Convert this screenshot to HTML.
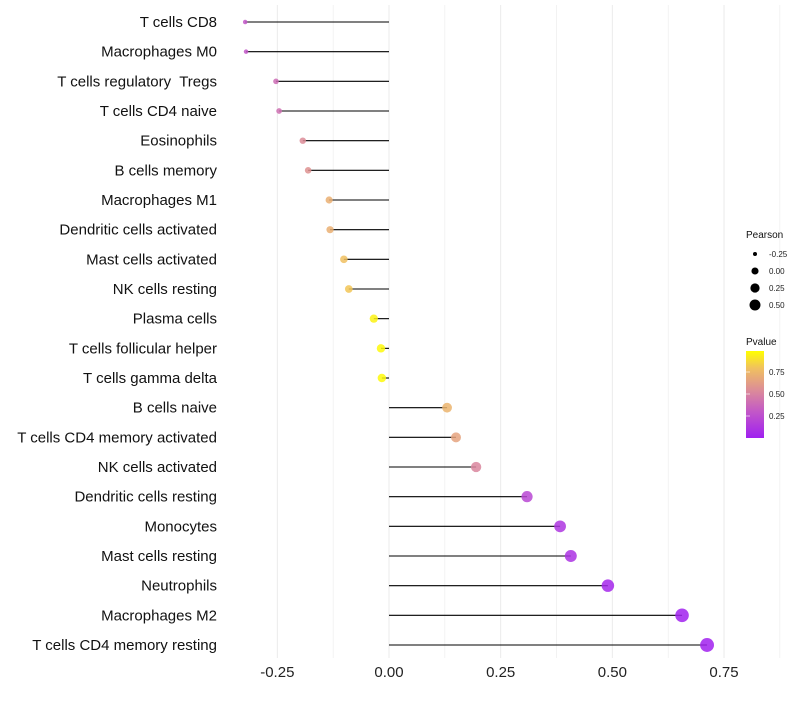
<!DOCTYPE html>
<html><head><meta charset="utf-8"><style>
body{margin:0;background:#fff;font-family:"Liberation Sans",sans-serif}
text{white-space:pre}
</style></head><body>
<svg id="chart" width="800" height="700" xmlns="http://www.w3.org/2000/svg">
<defs><linearGradient id="pg" x1="0" y1="1" x2="0" y2="0">
<stop offset="0" stop-color="#a020f0"/><stop offset="0.3" stop-color="#c257c8"/><stop offset="0.55" stop-color="#dc8c98"/><stop offset="0.8" stop-color="#f0c060"/><stop offset="1" stop-color="#ffff00"/></linearGradient></defs>
<g id="grid"></g><g id="marks"></g><g id="labels"></g><g id="legend"></g>
</svg>
<script>
const categories=["T cells CD8","Macrophages M0","T cells regulatory  Tregs","T cells CD4 naive","Eosinophils","B cells memory","Macrophages M1","Dendritic cells activated","Mast cells activated","NK cells resting","Plasma cells","T cells follicular helper","T cells gamma delta","B cells naive","T cells CD4 memory activated","NK cells activated","Dendritic cells resting","Monocytes","Mast cells resting","Neutrophils","Macrophages M2","T cells CD4 memory resting"];
const pearson=[-0.322,-0.320,-0.253,-0.246,-0.193,-0.181,-0.134,-0.132,-0.101,-0.090,-0.034,-0.018,-0.016,0.130,0.150,0.195,0.309,0.383,0.407,0.490,0.656,0.712];
const pvalue=[0.30,0.30,0.40,0.42,0.55,0.58,0.72,0.72,0.80,0.82,0.96,0.98,0.98,0.74,0.66,0.52,0.22,0.12,0.10,0.04,0.01,0.005];
const xTicks=[-0.25,0,0.25,0.5,0.75];
const xTickLabels=["-0.25","0.00","0.25","0.50","0.75"];
const sizeBreaks=[-0.25,0,0.25,0.5];
const sizeLabels=["-0.25","0.00","0.25","0.50"];
const pBreaks=[0.25,0.5,0.75];
const ns="http://www.w3.org/2000/svg";
const X=v=>389+v*446.7;
const Y=i=>22+i*29.667;
const R=v=>Math.sqrt(Math.max(1.5,8+42*(v+0.25)));
const RL=v=>Math.sqrt(Math.max(1.2,4+34.7*(v+0.25)));
function lerp(a,b,t){return a.map((x,i)=>Math.round(x+(b[i]-x)*t));}
const stops=[[0,[160,32,240]],[0.3,[194,87,200]],[0.55,[220,140,152]],[0.8,[240,192,96]],[1,[255,255,0]]];
function col(p){for(let i=1;i<stops.length;i++){if(p<=stops[i][0]){const t=(p-stops[i-1][0])/(stops[i][0]-stops[i-1][0]);return "rgb("+lerp(stops[i-1][1],stops[i][1],t).join(",")+")";}}return "rgb(255,255,0)";}
function mk(tag,attrs,parent,text){const e=document.createElementNS(ns,tag);for(const k in attrs)e.setAttribute(k,attrs[k]);if(text!==undefined)e.textContent=text;document.getElementById(parent).appendChild(e);return e;}
for(let v=-0.375;v<=0.876;v+=0.125){const x=X(v);if(x<230||x>780)continue;
const g=mk("line",{x1:x,x2:x,y1:5,y2:658,stroke:"#ebebeb","stroke-width":Math.abs(v*4-Math.round(v*4))<1e-6?1:0.6},"grid");

}
xTicks.forEach((v,i)=>{const t=mk("text",{x:X(v),y:677,"text-anchor":"middle","font-size":15,fill:"#222"},"labels",xTickLabels[i]);

});
categories.forEach((c,i)=>{const y=Y(i);
const t=mk("text",{x:217,y:y+5,"text-anchor":"end","font-size":15,fill:"#111"},"labels",c);


const l=mk("line",{x1:X(0),x2:X(pearson[i]),y1:y,y2:y,stroke:"#000","stroke-width":1.1},"marks");


const p=mk("circle",{cx:X(pearson[i]),cy:y,r:R(pearson[i]),fill:col(pvalue[i]),"fill-opacity":0.85},"marks");

});
let t=mk("text",{x:746,y:238,"font-size":10,fill:"#111"},"legend","Pearson");


sizeBreaks.forEach((v,i)=>{const y=254+i*17;
const c=mk("circle",{cx:755,cy:y,r:RL(v),fill:"#000"},"legend");


const tx=mk("text",{x:769,y:y+3,"font-size":8,fill:"#222"},"legend",sizeLabels[i]);

});
t=mk("text",{x:746,y:345,"font-size":10,fill:"#111"},"legend","Pvalue");


const bar=mk("rect",{x:746,y:351,width:18,height:87,fill:"url(#pg)"},"legend");


pBreaks.forEach(v=>{const y=438-v*88;
const tk=mk("line",{x1:746,x2:750,y1:y,y2:y,stroke:"#fff","stroke-opacity":0.6},"legend");


const tx=mk("text",{x:769,y:y+3,"font-size":8,fill:"#222"},"legend",v.toFixed(2));

});
</script>
</body></html>
